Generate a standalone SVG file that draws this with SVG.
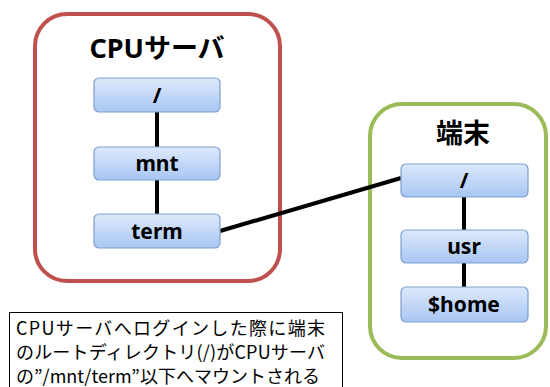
<svg xmlns="http://www.w3.org/2000/svg" width="550" height="387" viewBox="0 0 550 387">
<style>
.title{font-family:"Noto Sans","Noto Sans CJK JP",sans-serif;font-weight:bold;font-size:27px;text-anchor:middle;fill:#000}
.nt{font-family:"Noto Sans","Noto Sans CJK JP",sans-serif;font-weight:bold;font-size:21px;text-anchor:middle;fill:#000}
.node{fill:url(#g);stroke:#7f9fd0;stroke-width:1.2}
.conn{stroke:#000;stroke-width:4;fill:none}
.note{font-family:"Noto Sans CJK JP",sans-serif;font-size:18px;fill:#000}
</style>
<defs>
<linearGradient id="g" x1="0" y1="0" x2="0" y2="1">
<stop offset="0" stop-color="#dde9fb"/>
<stop offset="1" stop-color="#a8c6f3"/>
</linearGradient>
</defs>
<rect width="550" height="387" fill="#fff"/>
<g id="cpu-server">
<rect x="35" y="14" width="245" height="267" rx="32" fill="#fff" stroke="#c0504d" stroke-width="4"/>
<text class="title" x="157" y="58">CPUサーバ</text>
</g>
<g id="terminal">
<rect x="370" y="104" width="176" height="254" rx="32" fill="#fff" stroke="#9bbb59" stroke-width="4"/>
<text class="title" x="463" y="143">端末</text>
</g>
<g id="connectors">
<line class="conn" x1="157" y1="112" x2="157" y2="147"/>
<line class="conn" x1="157" y1="180" x2="157" y2="214"/>
<line class="conn" x1="220" y1="231" x2="401" y2="178"/>
<line class="conn" x1="464" y1="197" x2="464" y2="230"/>
<line class="conn" x1="464" y1="263" x2="464" y2="287"/>
</g>
<g id="c-root">
<rect class="node" x="94" y="78" width="126" height="34" rx="5"/>
<text class="nt" x="157" y="103">/</text>
</g>
<g id="c-mnt">
<rect class="node" x="94" y="147" width="126" height="33" rx="5"/>
<text class="nt" x="157" y="171">mnt</text>
</g>
<g id="c-term">
<rect class="node" x="94" y="214" width="126" height="34" rx="5"/>
<text class="nt" x="157" y="239">term</text>
</g>
<g id="t-root">
<rect class="node" x="401" y="164" width="127" height="33" rx="5"/>
<text class="nt" x="464" y="188">/</text>
</g>
<g id="t-usr">
<rect class="node" x="401" y="230" width="127" height="33" rx="5"/>
<text class="nt" x="464" y="254">usr</text>
</g>
<g id="t-home">
<rect class="node" x="401" y="287" width="127" height="35" rx="5"/>
<text class="nt" x="464" y="312">$home</text>
</g>
<g id="note">
<rect x="9.5" y="312.5" width="333" height="80" fill="#fff" stroke="#000" stroke-width="1"/>
<text class="note" x="16" y="335" textLength="309">CPUサーバへログインした際に端末</text>
<text class="note" x="16" y="359" textLength="309">のルートディレクトリ(/)がCPUサーバ</text>
<text class="note" x="16" y="383" textLength="304">の”/mnt/term”以下へマウントされる</text>
</g>
</svg>
